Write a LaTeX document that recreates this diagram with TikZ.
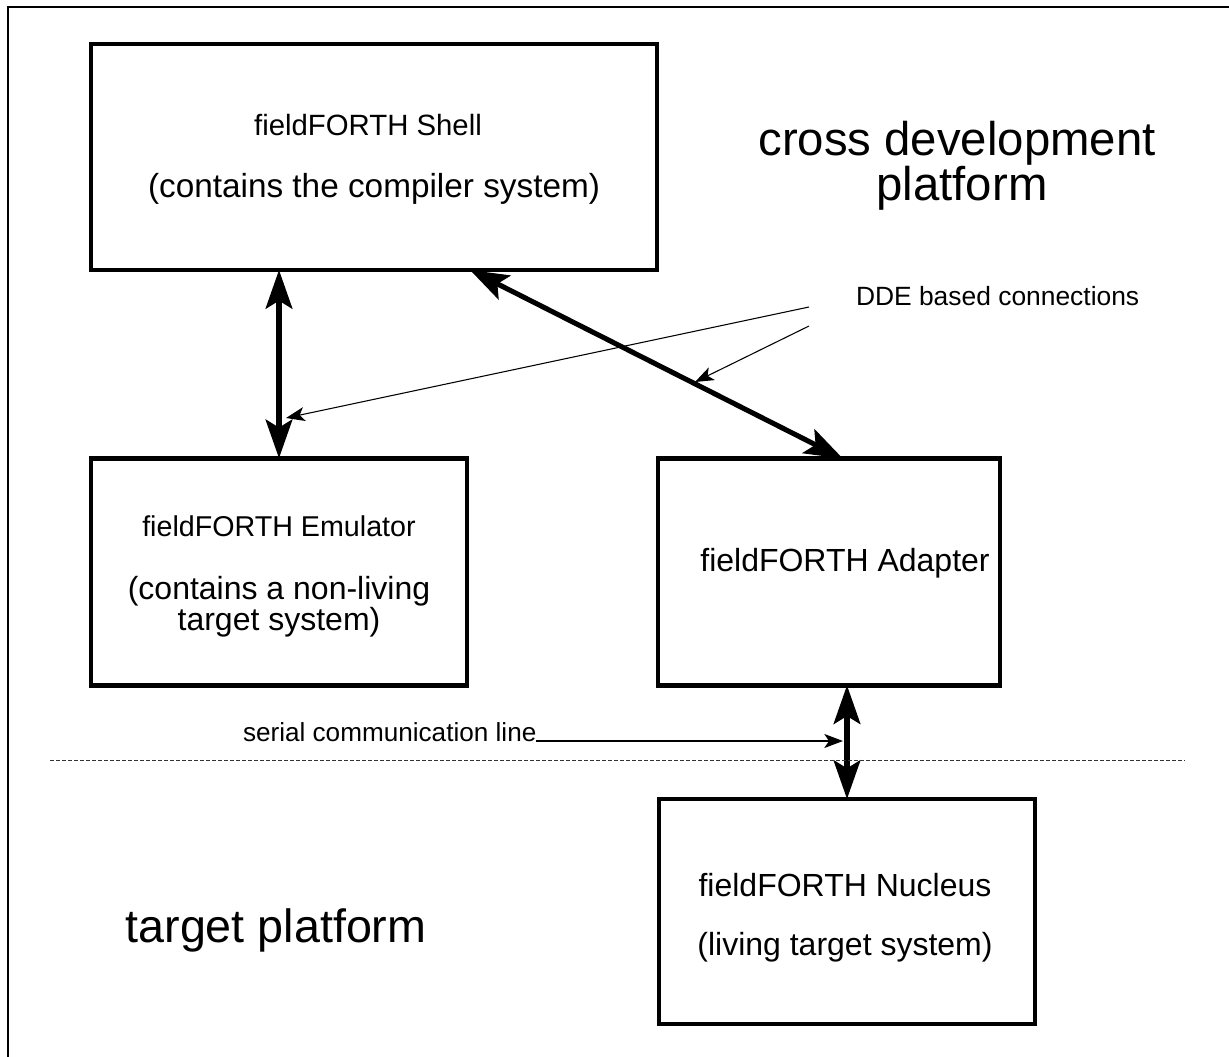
\documentclass[tikz,border=0pt]{standalone}
\usepackage{fontspec}
\setmainfont{Liberation Sans}
\usetikzlibrary{arrows.meta,calc}
\newcommand{\fsz}[1]{\fontsize{#1}{1.2\dimexpr #1\relax}\selectfont}
\begin{document}
\begin{tikzpicture}[x=0.75pt,y=-0.75pt,
  box/.style={draw,line width=3.6pt,inner sep=0pt,outer sep=0pt,rectangle},
  big/.style={line width=3.8pt,{Stealth[length=29pt,width=20pt,inset=6pt]}-{Stealth[length=29pt,width=20pt,inset=6pt]}},
  thinarrow/.style={line width=0.8pt,-{Stealth[length=14pt,width=10.5pt,inset=3.5pt]}},
  lbl/.style={inner sep=0pt,outer sep=0pt,anchor=base},
  frame/.style={line width=1.8pt},
  divider/.style={line width=0.7pt,dash pattern=on 3pt off 1.5pt,black!80}
]
\useasboundingbox (0,0) rectangle (1229,1057);
\draw[frame] (8,1060) -- (8,7) -- (1232,7);

% boxes
\node[box,minimum width=424.5pt,minimum height=169.5pt] (shell) at (374,157) {};
\node[box,minimum width=282pt,minimum height=170.6pt] (emu) at (279,572) {};
\node[box,minimum width=256.5pt,minimum height=170pt] (adapter) at (829,572) {};
\node[box,minimum width=282pt,minimum height=168.75pt] (nuc) at (847,911.5) {};

% box texts
\node[lbl] (shellt) at (368,135) {\fsz{22pt}fieldFORTH Shell};
\node[lbl] (shelld) at (374,197) {\fsz{25pt}(contains the compiler system)};
\node[lbl] (emut) at (279,536) {\fsz{21.5pt}fieldFORTH Emulator};
\node[lbl] (emud1) at (279,599) {\fsz{24pt}(contains a non-living};
\node[lbl] (emud2) at (279,630) {\fsz{24pt}target system)};
\node[lbl] (adat) at (845,571) {\fsz{24pt}fieldFORTH Adapter};
\node[lbl] (nuct) at (845,896) {\fsz{24pt}fieldFORTH Nucleus};
\node[lbl] (nucd) at (845,955) {\fsz{24pt}(living target system)};

% platform labels
\node[lbl] (cross1) at (957,155) {\fsz{35.5pt}cross development};
\node[lbl] (cross2) at (962,200) {\fsz{35.5pt}platform};
\node[lbl] (target) at (276,942) {\fsz{35pt}target platform};

% thick connectors
\draw[big] (emu.north |- shell.south) -- (emu.north);
\draw[big] ($(shell.south west)+(379,0)$) -- ($(adapter.north west)+(185,0)$);
\draw[big] (nuc.north |- adapter.south) -- (nuc.north);

% divider
\coordinate (dl) at (50,760);
\coordinate (dr) at (1185,760);
\draw[divider] (dl) -- (dr);

% DDE annotation
\node[lbl,anchor=base west] (dde) at (856,305) {\fsz{19.8pt}DDE based connections};
\coordinate (dde1) at (809,307);
\coordinate (dde2) at (809,326);
\coordinate (ddeend1) at (286,418);
\coordinate (ddeend2) at (695,382);
\draw[thinarrow] (dde1) -- (ddeend1);
\draw[thinarrow] (dde2) -- (ddeend2);

% serial annotation
\node[lbl,anchor=base west] (serial) at (243,741) {\fsz{19.6pt}serial communication line};
\coordinate (serend) at (843,741);
\draw[thinarrow] (serial.base east) -- (serend);
\end{tikzpicture}
\end{document}
